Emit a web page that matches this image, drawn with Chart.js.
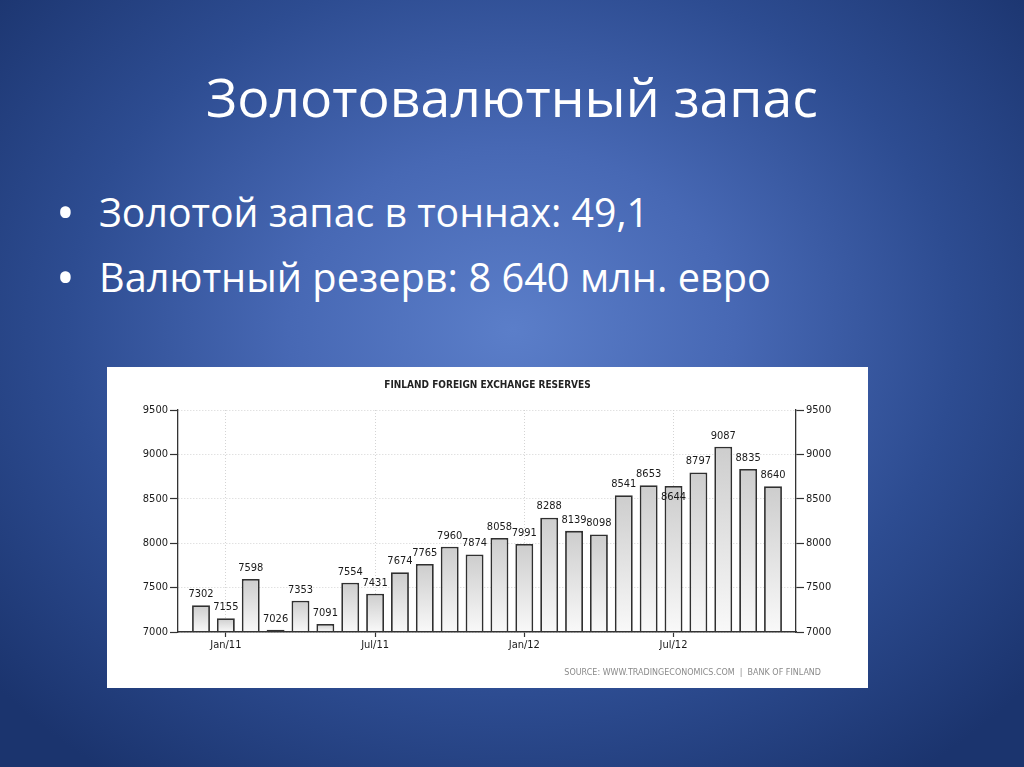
<!DOCTYPE html>
<html>
<head>
<meta charset="utf-8">
<script src="https://cdn.jsdelivr.net/npm/chart.js@4.4.1/dist/chart.umd.min.js"></script>
<style>
html,body{margin:0;padding:0;}
body{width:1024px;height:767px;overflow:hidden;position:relative;
  background:radial-gradient(ellipse 66% 72% at 50% 43%, #5b7ec9 0%, #4768b4 33%, #2d4c91 66%, #1b346e 100%);
  font-family:"Open Sans","Noto Sans",sans-serif;color:#fff;}
.txt{position:absolute;white-space:nowrap;line-height:1;transform-origin:0 0;}
#caja{position:absolute;left:107px;top:367px;width:761px;height:321px;background:#fff;}
</style>
</head>
<body>
<div class="txt" id="titulo" data-w="612" style="left:206px;top:70px;font-size:53px">Золотовалютный запас</div>
<div class="txt" style="left:56px;top:186px;font-size:50px">•</div>
<div class="txt" id="linea1" data-w="550" style="left:99px;top:192px;font-size:40px">Золотой запас в тоннах: 49,1</div>
<div class="txt" style="left:56px;top:251px;font-size:50px">•</div>
<div class="txt" id="linea2" data-w="672" style="left:99px;top:257px;font-size:40px">Валютный резерв: 8 640 млн. евро</div>

<div id="caja"><canvas id="barras" width="761" height="321"></canvas></div>

<script>
const meses = ['Dec/10','Jan/11','Feb/11','Mar/11','Apr/11','May/11','Jun/11','Jul/11','Aug/11','Sep/11','Oct/11','Nov/11',
               'Dec/11','Jan/12','Feb/12','Mar/12','Apr/12','May/12','Jun/12','Jul/12','Aug/12','Sep/12','Oct/12','Nov/12'];
const reservas = [7302,7155,7598,7026,7353,7091,7554,7431,7674,7765,7960,7874,
                  8058,7991,8288,8139,8098,8541,8653,8644,8797,9087,8835,8640];
const etiquetasX = ['Jan/11','Jul/11','Jan/12','Jul/12'];
const valoresY = [7000,7500,8000,8500,9000,9500];

// ajustar el ancho de los textos de la diapositiva
document.querySelectorAll('.txt[data-w]').forEach(el => {
  const w = el.getBoundingClientRect().width;
  el.style.transform = 'scaleX(' + (el.dataset.w / w) + ')';
});

const fuente = "'DejaVu Sans Condensed','DejaVu Sans',sans-serif";

const etiquetas = {
  id: 'etiquetas',
  afterDatasetsDraw(chart) {
    const ctx = chart.ctx;
    const meta = chart.getDatasetMeta(0);
    ctx.save();
    ctx.font = '11px ' + fuente;
    ctx.fillStyle = '#1a1a1a';
    ctx.textAlign = 'center';
    ctx.textBaseline = 'middle';
    let prev = null;
    meta.data.forEach((bar, i) => {
      const txt = String(reservas[i]);
      const w = ctx.measureText(txt).width;
      let y = bar.y - 11;
      if (prev && prev.x + prev.w / 2 + 2 > bar.x - w / 2 && Math.abs(prev.y - y) < 3) {
        y = bar.y + 11;
      }
      ctx.fillText(txt, bar.x, y);
      prev = {x: bar.x, y: y, w: w};
    });
    ctx.restore();
  },
  afterDraw(chart) {
    const ctx = chart.ctx;
    ctx.save();
    ctx.font = "8px 'DejaVu Sans',sans-serif";
    ctx.fillStyle = '#8a8a8a';
    ctx.textAlign = 'right';
    ctx.textBaseline = 'middle';
    ctx.fillText('SOURCE: WWW.TRADINGECONOMICS.COM  |  BANK OF FINLAND', chart.width - 47, 306);
    ctx.restore();
  }
};

function degradado(context) {
  const chart = context.chart;
  const y = chart.scales.y;
  if (!y || !context.raw) return '#ddd';
  const top = y.getPixelForValue(context.raw.y);
  const base = y.getPixelForValue(y.min);
  if (!isFinite(top) || !isFinite(base) || top === base) return '#ddd';
  const g = chart.ctx.createLinearGradient(0, top, 0, base);
  g.addColorStop(0, '#cdcdcd');
  g.addColorStop(1, '#f9f9f9');
  return g;
}

const ejeY = (pos, ancho) => ({
  type: 'linear',
  position: pos,
  min: valoresY[0],
  max: valoresY[valoresY.length - 1],
  afterBuildTicks: s => { s.ticks = valoresY.map(v => ({value: v})); },
  afterFit: s => { s.width = ancho; },
  ticks: {color: '#1a1a1a', font: {family: fuente, size: 11}, padding: 2, callback: v => String(v)},
  grid: {color: '#d4d4d4', drawOnChartArea: pos === 'left', tickLength: 8, tickColor: '#333', tickWidth: 1.2},
  border: {color: '#333', width: 1.3, dash: [1, 2], z: 1}
});

new Chart(document.getElementById('barras'), {
  type: 'bar',
  data: {
    datasets: [{
      label: 'Finland foreign exchange reserves',
      data: reservas.map((v, i) => ({x: i, y: v})),
      backgroundColor: degradado,
      borderColor: '#303030',
      borderWidth: 1.8,
      borderSkipped: 'start',
      categoryPercentage: 0.8,
      barPercentage: 0.9
    }]
  },
  options: {
    responsive: false,
    animation: false,
    layout: {padding: {left: 0, right: 0, top: 0, bottom: 26}},
    plugins: {
      legend: {display: false},
      tooltip: {enabled: false},
      title: {
        display: true,
        text: 'FINLAND FOREIGN EXCHANGE RESERVES',
        color: '#222',
        font: {family: fuente, size: 10, weight: 'bold'},
        padding: {top: 12, bottom: 19}
      }
    },
    scales: {
      x: {
        type: 'linear',
        min: -0.925,
        max: 23.925,
        offset: false,
        afterBuildTicks: s => { s.ticks = etiquetasX.map(l => ({value: meses.indexOf(l)})); },
        afterFit: s => { s.height = 30; },
        ticks: {
          color: '#1a1a1a',
          font: {family: fuente, size: 11},
          padding: 2,
          callback: v => meses[v]
        },
        grid: {color: '#d4d4d4', offset: false, tickLength: 5, tickColor: '#333', tickWidth: 1.2},
        border: {color: '#333', width: 1.5, dash: [1, 2], z: 1}
      },
      y: ejeY('left', 71),
      y2: ejeY('right', 72)
    }
  },
  plugins: [etiquetas]
});
</script>
</body>
</html>
